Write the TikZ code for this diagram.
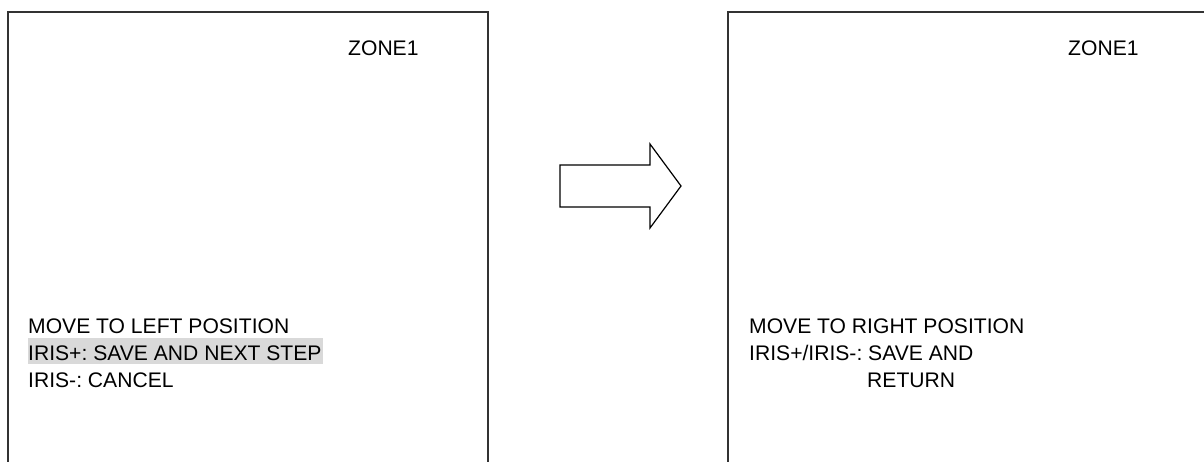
\documentclass[tikz,border=0pt]{standalone}
\usepackage{fontspec}
\setmainfont{Liberation Sans}
\frenchspacing
\begin{document}
\begin{tikzpicture}[x=1pt,y=-1pt,
  frame/.style={draw=black!80,line width=1.2pt},
  txt/.style={anchor=base west,inner sep=0pt,font=\fontsize{21.1}{24}\selectfont},
  hl/.style={fill=black!15,draw=none}]
\useasboundingbox (0,0) rectangle (1204,462);
% screens
\draw[frame] (8,462) -- (8,12) -- (488,12) -- (488,462);
\draw[frame] (728,462) -- (728,12) -- (1204,12);
% highlight
\fill[hl] (28,338) rectangle (323,364);
% left texts
\node[txt] (z1) at (348,56) {ZONE1};
\node[txt] (l1) at (28,333) {MOVE TO LEFT POSITION};
\node[txt] (l2) at (28,360) {IRIS+: SAVE AND NEXT STEP};
\node[txt] (l3) at (28,387) {IRIS-: CANCEL};
% right texts
\node[txt] (z2) at (1068,56) {ZONE1};
\node[txt] (r1) at (749,333) {MOVE TO RIGHT POSITION};
\node[txt] (r2) at (749,360) {IRIS+/IRIS-: SAVE AND};
\node[txt] (r3) at (867,387) {RETURN};
% block arrow
\draw[line width=1.2pt,line join=miter] (560,165) -- (650,165) -- (650,144) -- (681,186) -- (650,228) -- (650,207) -- (560,207) -- cycle;
\end{tikzpicture}
\end{document}
